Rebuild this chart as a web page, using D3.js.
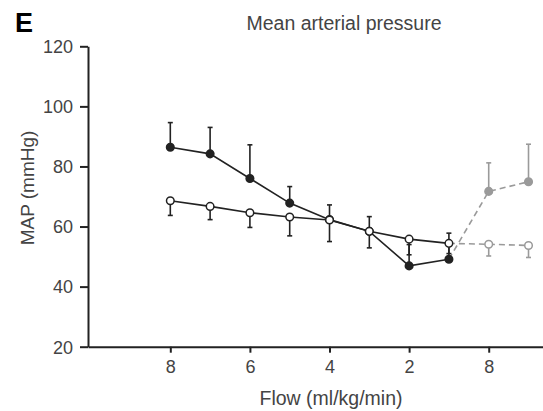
<!DOCTYPE html>
<html>
<head>
<meta charset="utf-8">
<script src="https://cdn.jsdelivr.net/npm/d3@7"></script>
<style>
  html, body { margin: 0; padding: 0; background: #fff; }
  svg { display: block; font-family: "Liberation Sans", Arial, sans-serif; }
</style>
</head>
<body>
<svg id="chart" width="543" height="411"></svg>
<script>
// ---- data ----
const flowLabels = ["8", "7", "6", "5", "4", "3", "2", "1", "8", ""];
const tickIndices = [0, 2, 4, 6, 8];
const yTicks = [20, 40, 60, 80, 100, 120];

// filled (black) series, flow 8 -> 1
const filledMean = [86.4, 84.2, 76.0, 67.8, 62.3, 58.4, 46.9, 49.1];
const filledErrTop = [94.6, 93.0, 87.2, 73.3, 67.2, 63.3, 54.0, 57.8];
// open series, flow 8 -> 1
const openMean = [68.6, 66.7, 64.6, 63.2, 62.2, 58.4, 55.8, 54.4];
const openErrBottom = [63.7, 62.3, 59.7, 56.9, 55.0, 52.9, 50.6, 51.0];
// grey (recovery) series at indices 8, 9
const greyFilledMean = [71.7, 74.9];
const greyFilledErrTop = [81.2, 87.4];
const greyOpenMean = [54.1, 53.7];
const greyOpenErrBottom = [50.2, 49.7];

// ---- layout ----
const svg = d3.select("#chart");
const axisX = 88, axisBottomY = 346.7, axisTopY = 46.3;
const x = d3.scaleLinear().domain([-2.068, 9.364]).range([axisX, 543]);
const y = d3.scaleLinear().domain([20, 120]).range([axisBottomY, axisTopY]);

const dark = "#222";
const grey = "#9a9a9a";
const textCol = "#444";

// axes
const yAxis = d3.axisLeft(y).tickValues(yTicks).tickSize(8).tickSizeOuter(0).tickPadding(7);
const gy = svg.append("g").attr("transform", `translate(${axisX},0)`).call(yAxis);
const xAxis = d3.axisBottom(x).tickValues(tickIndices).tickFormat(i => flowLabels[i])
  .tickSize(6).tickSizeOuter(0).tickPadding(8);
const gx = svg.append("g").attr("transform", `translate(0,${axisBottomY})`).call(xAxis);
[gx, gy].forEach(g => {
  g.select(".domain").attr("stroke", dark).attr("stroke-width", 2);
  g.selectAll(".tick line").attr("stroke", dark).attr("stroke-width", 2);
  g.selectAll(".tick text").attr("fill", textCol).style("font-size", "18px")
    .style("font-family", '"Liberation Sans", Arial, sans-serif');
});
gy.selectAll(".tick text").attr("dy", "0.35em");

// texts
svg.append("text").attr("x", 15).attr("y", 32).text("E")
  .style("font-size", "27px").style("font-weight", "bold").attr("fill", "#000");
svg.append("text").attr("x", 344).attr("y", 30).attr("text-anchor", "middle")
  .text("Mean arterial pressure").style("font-size", "19.5px").attr("fill", textCol);
svg.append("text").attr("x", 331).attr("y", 405).attr("text-anchor", "middle")
  .text("Flow (ml/kg/min)").style("font-size", "19.5px").attr("fill", textCol);
svg.append("text").attr("transform", `translate(34,188) rotate(-90)`).attr("text-anchor", "middle")
  .text("MAP (mmHg)").style("font-size", "19px").attr("fill", textCol);

const line = d3.line().x(d => x(d[0])).y(d => y(d[1]));
const idx = a => a.map((v, i) => [i, v]);

// grey dashed lines (start at flow 1 points)
const last = filledMean.length - 1;
svg.append("path")
  .attr("d", line([[last, filledMean[last]], [8, greyFilledMean[0]], [9, greyFilledMean[1]]]))
  .attr("fill", "none").attr("stroke", grey).attr("stroke-width", 1.6).attr("stroke-dasharray", "6,4");
svg.append("path")
  .attr("d", line([[last, openMean[last]], [8, greyOpenMean[0]], [9, greyOpenMean[1]]]))
  .attr("fill", "none").attr("stroke", grey).attr("stroke-width", 1.6).attr("stroke-dasharray", "6,4");

// main lines
svg.append("path").attr("d", line(idx(filledMean)))
  .attr("fill", "none").attr("stroke", dark).attr("stroke-width", 1.6);
svg.append("path").attr("d", line(idx(openMean)))
  .attr("fill", "none").attr("stroke", dark).attr("stroke-width", 1.6);

// error bars
function errBars(means, ends, offset, color) {
  const g = svg.append("g").attr("stroke", color).attr("stroke-width", 1.6);
  means.forEach((m, i) => {
    const cx = x(i + offset);
    g.append("line").attr("x1", cx).attr("x2", cx).attr("y1", y(m)).attr("y2", y(ends[i]));
    g.append("line").attr("x1", cx - 2.5).attr("x2", cx + 2.5).attr("y1", y(ends[i])).attr("y2", y(ends[i]));
  });
}
errBars(filledMean, filledErrTop, 0, dark);
errBars(openMean, openErrBottom, 0, dark);
errBars(greyFilledMean, greyFilledErrTop, 8, grey);
errBars(greyOpenMean, greyOpenErrBottom, 8, grey);

// points
function points(means, offset, fill, stroke) {
  svg.append("g").selectAll("circle").data(means).join("circle")
    .attr("cx", (d, i) => x(i + offset)).attr("cy", d => y(d)).attr("r", 3.8)
    .attr("fill", fill).attr("stroke", stroke).attr("stroke-width", 1.5);
}
points(filledMean, 0, dark, dark);
points(openMean, 0, "#fff", dark);
points(greyFilledMean, 8, grey, grey);
points(greyOpenMean, 8, "#fff", grey);
</script>
</body>
</html>
